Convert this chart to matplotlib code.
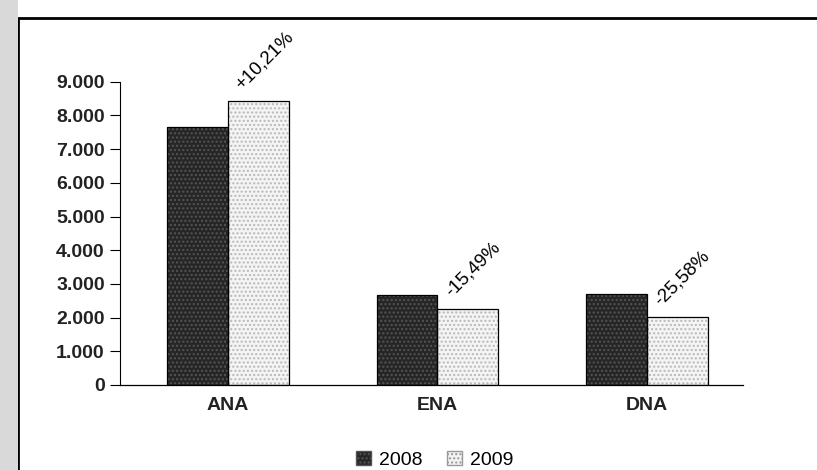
import numpy as np
import matplotlib.pyplot as plt
from matplotlib.patches import Patch, Rectangle

# Data
categories = ['ANA', 'ENA', 'DNA']
tests_2008 = [7650, 2680, 2700]
tests_2009 = [8430, 2265, 2010]
changes = ['+10,21%', '-15,49%', '-25,58%']
yticks = [0, 1000, 2000, 3000, 4000, 5000, 6000, 7000, 8000, 9000]
ytick_labels = ['0', '1.000', '2.000', '3.000', '4.000', '5.000',
                '6.000', '7.000', '8.000', '9.000']

plt.rcParams['font.family'] = ['Liberation Sans', 'DejaVu Sans']

fig = plt.figure(figsize=(8.17, 4.70), dpi=100)
ax = fig.add_axes([0.147, 0.181, 0.762, 0.645])

x = np.arange(len(categories))
w = 0.29

# filled bars with a fine dotted texture, then black outlines on top
ax.bar(x - w / 2, tests_2008, w, align='center', color='#262626',
       hatch='....', edgecolor='#555555', linewidth=0)
ax.bar(x + w / 2, tests_2009, w, align='center', color='#f4f4f4',
       hatch='....', edgecolor='#b8b8b8', linewidth=0)
ax.bar(x - w / 2, tests_2008, w, fill=False, edgecolor='black', linewidth=0.9)
ax.bar(x + w / 2, tests_2009, w, fill=False, edgecolor='black', linewidth=0.9)

# rotated change labels above the 2009 bars
for xi, v, lab in zip(x, tests_2009, changes):
    ax.annotate(lab, (xi + 0.08, v), xytext=(0, 6), textcoords='offset points',
                rotation=45, ha='left', va='bottom', fontsize=13.5,
                rotation_mode='anchor', annotation_clip=False)

ax.set_xlim(-0.514, 2.457)
ax.set_ylim(0, 9000)
ax.set_yticks(yticks)
ax.set_yticklabels(ytick_labels, fontsize=14, fontweight='bold', color='#222222')
ax.set_xticks(x)
ax.set_xticklabels(categories, fontsize=14, fontweight='bold', color='#222222')
ax.tick_params(axis='x', length=0, pad=9)
ax.tick_params(axis='y', length=7, width=0.8, pad=4)
ax.spines['top'].set_visible(False)
ax.spines['right'].set_visible(False)
ax.spines['left'].set_linewidth(0.8)
ax.spines['bottom'].set_linewidth(0.9)

handles = [Patch(facecolor='#262626', hatch='....', edgecolor='#555555', label='2008'),
           Patch(facecolor='#f4f4f4', hatch='....', edgecolor='#999999', label='2009')]
fig.legend(handles=handles, loc='lower center', bbox_to_anchor=(0.532, -0.035),
           ncol=2, frameon=False, fontsize=14, handlelength=0.75,
           handleheight=0.75, handletextpad=0.4, columnspacing=1.3)

# page frame of the scan
fig.add_artist(Rectangle((0.022, -0.01), 1.0, 0.972, transform=fig.transFigure,
                         fill=False, edgecolor='black', linewidth=2))
fig.add_artist(Rectangle((0, 0), 0.022, 1, transform=fig.transFigure,
                         facecolor='#d9d9d9', edgecolor='none'))

fig.savefig('out.png', dpi=100)
